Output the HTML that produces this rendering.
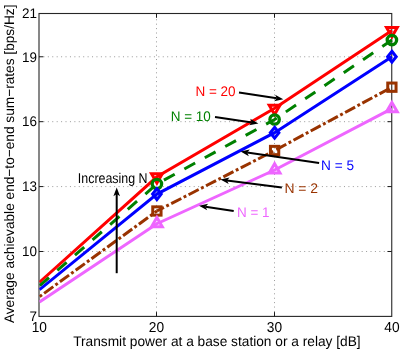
<!DOCTYPE html>
<html><head><meta charset="utf-8"><title>chart</title>
<style>
html,body{margin:0;padding:0;background:#fff;}
body{width:402px;height:352px;overflow:hidden;}
svg{display:block;will-change:transform;}
text{font-family:"Liberation Sans",sans-serif;text-rendering:geometricPrecision;}
</style></head><body>
<svg width="402" height="352" viewBox="0 0 402 352">
<rect x="0" y="0" width="402" height="352" fill="#fff"/>
<g stroke="#9a9a9a" stroke-width="1" stroke-dasharray="1 3.42" fill="none"><line x1="156.5" y1="316.4" x2="156.5" y2="13.5"/><line x1="274.5" y1="316.4" x2="274.5" y2="13.5"/><line x1="39.0" y1="56.77" x2="391.75" y2="56.77"/><line x1="39.0" y1="121.68" x2="391.75" y2="121.68"/><line x1="39.0" y1="186.59" x2="391.75" y2="186.59"/><line x1="39.0" y1="251.49" x2="391.75" y2="251.49"/></g>
<rect x="39.0" y="13.5" width="352.75" height="302.90" fill="none" stroke="#262626" stroke-width="1.1"/>
<path d="M156.5 316.4 v-4.3 M156.5 13.5 v4.3 M274.5 316.4 v-4.3 M274.5 13.5 v4.3 M39.0 56.77 h4.3 M391.75 56.77 h-4.3 M39.0 121.68 h4.3 M391.75 121.68 h-4.3 M39.0 186.59 h4.3 M391.75 186.59 h-4.3 M39.0 251.49 h4.3 M391.75 251.49 h-4.3" stroke="#1a1a1a" stroke-width="1" fill="none"/>
<clipPath id="c"><rect x="39.3" y="0" width="372.75" height="352"/></clipPath>
<g clip-path="url(#c)"><path d="M39.5 282.2 L156.9 176.8 L274.6 108.3 L391.9 30.5" fill="none" stroke="#ff0000" stroke-width="3.0" stroke-linejoin="miter"/></g>
<path d="M151.53 173.70 L162.27 173.70 L156.9 183.00 Z" fill="none" stroke="#ff0000" stroke-width="3.0" stroke-linejoin="miter" stroke-miterlimit="10"/>
<path d="M269.23 105.20 L279.97 105.20 L274.6 114.50 Z" fill="none" stroke="#ff0000" stroke-width="3.0" stroke-linejoin="miter" stroke-miterlimit="10"/>
<path d="M386.53 27.40 L397.27 27.40 L391.9 36.70 Z" fill="none" stroke="#ff0000" stroke-width="3.0" stroke-linejoin="miter" stroke-miterlimit="10"/>
<g clip-path="url(#c)"><path d="M39.5 285.8 L156.9 184.0 L274.6 119.5 L391.9 40.1" fill="none" stroke="#008000" stroke-width="3.0" stroke-linejoin="miter" stroke-dasharray="12.3 11.0" stroke-dashoffset="-0.3"/></g>
<circle cx="156.9" cy="184.0" r="4.7" fill="none" stroke="#008000" stroke-width="3.3"/>
<circle cx="274.6" cy="119.5" r="4.7" fill="none" stroke="#008000" stroke-width="3.3"/>
<circle cx="391.9" cy="40.1" r="4.7" fill="none" stroke="#008000" stroke-width="3.3"/>
<g clip-path="url(#c)"><path d="M39.5 289.7 L156.9 194.1 L274.6 132.7 L391.9 56.7" fill="none" stroke="#0000ff" stroke-width="3.0" stroke-linejoin="miter"/></g>
<path d="M156.9 188.7 L161.20000000000002 194.1 L156.9 199.5 L152.6 194.1 Z" fill="none" stroke="#0000ff" stroke-width="3.0" stroke-linejoin="miter" stroke-miterlimit="10"/>
<path d="M274.6 127.29999999999998 L278.90000000000003 132.7 L274.6 138.1 L270.3 132.7 Z" fill="none" stroke="#0000ff" stroke-width="3.0" stroke-linejoin="miter" stroke-miterlimit="10"/>
<path d="M391.9 51.300000000000004 L396.2 56.7 L391.9 62.1 L387.59999999999997 56.7 Z" fill="none" stroke="#0000ff" stroke-width="3.0" stroke-linejoin="miter" stroke-miterlimit="10"/>
<g clip-path="url(#c)" fill="none" stroke="#993300" stroke-width="3.0" stroke-dasharray="2.9 2.65 11.35 2.65"><path d="M39.5 296.7 L156.9 211.0" stroke-dashoffset="19.40"/><path d="M156.9 211.0 L274.6 150.5" stroke-dashoffset="9.02"/><path d="M274.6 150.5 L391.9 87.2" stroke-dashoffset="3.63"/></g>
<rect x="152.75" y="206.85" width="8.3" height="8.3" fill="none" stroke="#993300" stroke-width="3.0"/>
<rect x="270.45000000000005" y="146.35" width="8.3" height="8.3" fill="none" stroke="#993300" stroke-width="3.0"/>
<rect x="387.75" y="83.05" width="8.3" height="8.3" fill="none" stroke="#993300" stroke-width="3.0"/>
<g clip-path="url(#c)"><path d="M39.5 302.0 L156.9 223.7 L274.6 170.0 L391.9 108.7" fill="none" stroke="#ee66ff" stroke-width="3.0" stroke-linejoin="miter"/></g>
<path d="M151.53 226.80 L162.27 226.80 L156.9 217.50 Z" fill="none" stroke="#ee66ff" stroke-width="3.0" stroke-linejoin="miter" stroke-miterlimit="10"/>
<path d="M269.23 173.10 L279.97 173.10 L274.6 163.80 Z" fill="none" stroke="#ee66ff" stroke-width="3.0" stroke-linejoin="miter" stroke-miterlimit="10"/>
<path d="M386.53 111.80 L397.27 111.80 L391.9 102.50 Z" fill="none" stroke="#ee66ff" stroke-width="3.0" stroke-linejoin="miter" stroke-miterlimit="10"/>
<line x1="116.70" y1="273.20" x2="116.70" y2="194.00" stroke="#000" stroke-width="2.0"/><path d="M116.70 187.40 L120.00 196.20 L116.70 194.00 L113.40 196.20 Z" fill="#000"/>
<line x1="239.00" y1="92.50" x2="276.78" y2="98.30" stroke="#000" stroke-width="2.0"/><path d="M283.30 99.30 L274.10 101.23 L276.78 98.30 L275.10 94.70 Z" fill="#000"/>
<line x1="215.00" y1="116.90" x2="251.87" y2="122.42" stroke="#000" stroke-width="2.0"/><path d="M258.40 123.40 L249.21 125.36 L251.87 122.42 L250.19 118.83 Z" fill="#000"/>
<line x1="319.10" y1="163.10" x2="247.13" y2="152.56" stroke="#000" stroke-width="2.0"/><path d="M240.60 151.60 L249.79 149.61 L247.13 152.56 L248.83 156.14 Z" fill="#000"/>
<line x1="281.90" y1="187.40" x2="226.95" y2="180.43" stroke="#000" stroke-width="2.0"/><path d="M220.40 179.60 L229.55 177.43 L226.95 180.43 L228.71 183.98 Z" fill="#000"/>
<line x1="233.70" y1="211.10" x2="205.52" y2="206.71" stroke="#000" stroke-width="2.0"/><path d="M199.00 205.70 L208.20 203.79 L205.52 206.71 L207.19 210.31 Z" fill="#000"/>
<text x="77.80" y="182.8" font-size="14.2" fill="#000" textLength="69.80" lengthAdjust="spacingAndGlyphs">Increasing N</text>
<text x="195.40" y="95.9" font-size="14" fill="#ff0000" textLength="40.20" lengthAdjust="spacingAndGlyphs">N = 20</text>
<text x="170.70" y="121.0" font-size="14" fill="#008000" textLength="40.10" lengthAdjust="spacingAndGlyphs">N = 10</text>
<text x="321.10" y="169.9" font-size="14" fill="#0000ff" textLength="33.00" lengthAdjust="spacingAndGlyphs">N = 5</text>
<text x="284.40" y="192.6" font-size="14" fill="#993300" textLength="33.70" lengthAdjust="spacingAndGlyphs">N = 2</text>
<text x="237.10" y="216.9" font-size="14" fill="#ee66ff" textLength="32.50" lengthAdjust="spacingAndGlyphs">N = 1</text>
<text x="37.0" y="18.30" font-size="13.9" text-anchor="end" fill="#000" textLength="15.0" lengthAdjust="spacingAndGlyphs">21</text>
<text x="37.0" y="61.57" font-size="13.9" text-anchor="end" fill="#000" textLength="15.0" lengthAdjust="spacingAndGlyphs">19</text>
<text x="37.0" y="126.48" font-size="13.9" text-anchor="end" fill="#000" textLength="15.0" lengthAdjust="spacingAndGlyphs">16</text>
<text x="37.0" y="191.39" font-size="13.9" text-anchor="end" fill="#000" textLength="15.0" lengthAdjust="spacingAndGlyphs">13</text>
<text x="37.0" y="256.29" font-size="13.9" text-anchor="end" fill="#000" textLength="15.0" lengthAdjust="spacingAndGlyphs">10</text>
<text x="37.0" y="321.20" font-size="13.9" text-anchor="end" fill="#000" textLength="7.5" lengthAdjust="spacingAndGlyphs">7</text>
<text x="39.3" y="331.7" font-size="14.4" text-anchor="middle" fill="#000" textLength="15.3" lengthAdjust="spacingAndGlyphs">10</text>
<text x="156.5" y="331.7" font-size="14.4" text-anchor="middle" fill="#000" textLength="15.3" lengthAdjust="spacingAndGlyphs">20</text>
<text x="274.5" y="331.7" font-size="14.4" text-anchor="middle" fill="#000" textLength="15.3" lengthAdjust="spacingAndGlyphs">30</text>
<text x="392.0" y="331.7" font-size="14.4" text-anchor="middle" fill="#000" textLength="15.3" lengthAdjust="spacingAndGlyphs">40</text>
<text x="216.9" y="345.9" font-size="14" text-anchor="middle" fill="#000" textLength="287.5" lengthAdjust="spacingAndGlyphs">Transmit power at a base station or a relay [dB]</text>
<text transform="translate(14.4,163.8) rotate(-90)" font-size="13.8" text-anchor="middle" fill="#000" textLength="318.6" lengthAdjust="spacingAndGlyphs">Average achievable end−to−end sum−rates [bps/Hz]</text>
</svg>
</body></html>
